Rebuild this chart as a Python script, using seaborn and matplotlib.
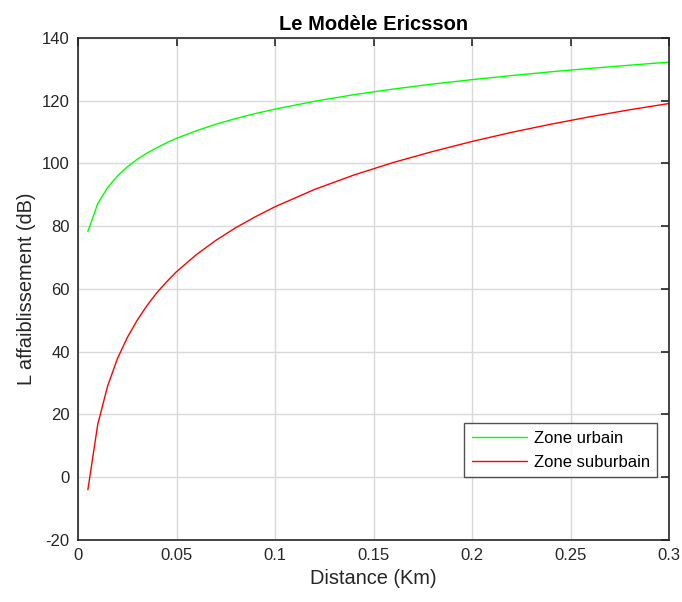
import numpy as np
import pandas as pd
import seaborn as sns
import matplotlib.pyplot as plt

# distance (km) and path loss (dB)
distance = [0.005, 0.01, 0.015, 0.02, 0.025, 0.03, 0.035, 0.04, 0.045, 0.05,
            0.06, 0.07, 0.08, 0.09, 0.1, 0.12, 0.14, 0.16, 0.18, 0.2,
            0.22, 0.24, 0.26, 0.28, 0.3]
urbain = [78.3, 87.2, 92.3, 96.0, 98.9, 101.3, 103.3, 105.0, 106.6, 108.0,
          110.4, 112.5, 114.3, 115.9, 117.3, 119.8, 121.9, 123.7, 125.3, 126.7,
          128.0, 129.2, 130.3, 131.3, 132.3]
suburbain = [-4.0, 16.8, 29.0, 37.8, 44.5, 50.0, 54.7, 58.8, 62.3, 65.5,
             70.9, 75.5, 79.5, 83.0, 86.2, 91.7, 96.3, 100.3, 103.8, 107.0,
             109.9, 112.5, 114.9, 117.1, 119.1]

df = pd.DataFrame({
    'Distance': distance * 2,
    'Loss': urbain + suburbain,
    'Zone': ['Zone urbain'] * len(distance) + ['Zone suburbain'] * len(distance),
})

sns.set_style('white')
plt.rcParams['font.family'] = ['Liberation Sans', 'DejaVu Sans']
plt.rcParams['axes.unicode_minus'] = False
dark = '#262626'

fig = plt.figure(figsize=(6.82, 6.02), dpi=100)
ax = fig.add_axes([0.1144, 0.103, 0.8666, 0.834])

sns.lineplot(data=df, x='Distance', y='Loss', hue='Zone', sort=False,
             palette={'Zone urbain': '#00ff00', 'Zone suburbain': '#ff0000'},
             linewidth=1.0, ax=ax)

ax.set_xlim(0, 0.3)
ax.set_ylim(-20, 140)
ax.set_xticks([0, 0.05, 0.1, 0.15, 0.2, 0.25, 0.3])
ax.set_xticklabels(['0', '0.05', '0.1', '0.15', '0.2', '0.25', '0.3'])
ax.set_yticks(range(-20, 141, 20))
ax.grid(True, color='#d9d9d9', linewidth=1.0)
ax.tick_params(direction='in', length=6, width=1.2, colors=dark, labelsize=12,
               top=True, right=True, pad=6)
for sp in ax.spines.values():
    sp.set_color(dark)
    sp.set_linewidth(1.2)

ax.set_xlabel('Distance (Km)', fontsize=14.4, color=dark)
ax.set_ylabel('L affaiblissement (dB)', fontsize=14.4, color=dark)
ax.set_title('Le Modèle Ericsson', fontsize=14.5, fontweight='bold', color='black', pad=6)

leg = ax.legend(loc='lower right', bbox_to_anchor=(0.98, 0.125), fontsize=12,
                frameon=True, fancybox=False, handlelength=3.3, borderpad=0.45,
                labelspacing=0.55, handletextpad=0.4, borderaxespad=0)
leg.get_frame().set_edgecolor(dark)
leg.get_frame().set_linewidth(1.0)
for t in leg.get_texts():
    t.set_color('black')

fig.savefig('out.png', dpi=100)
